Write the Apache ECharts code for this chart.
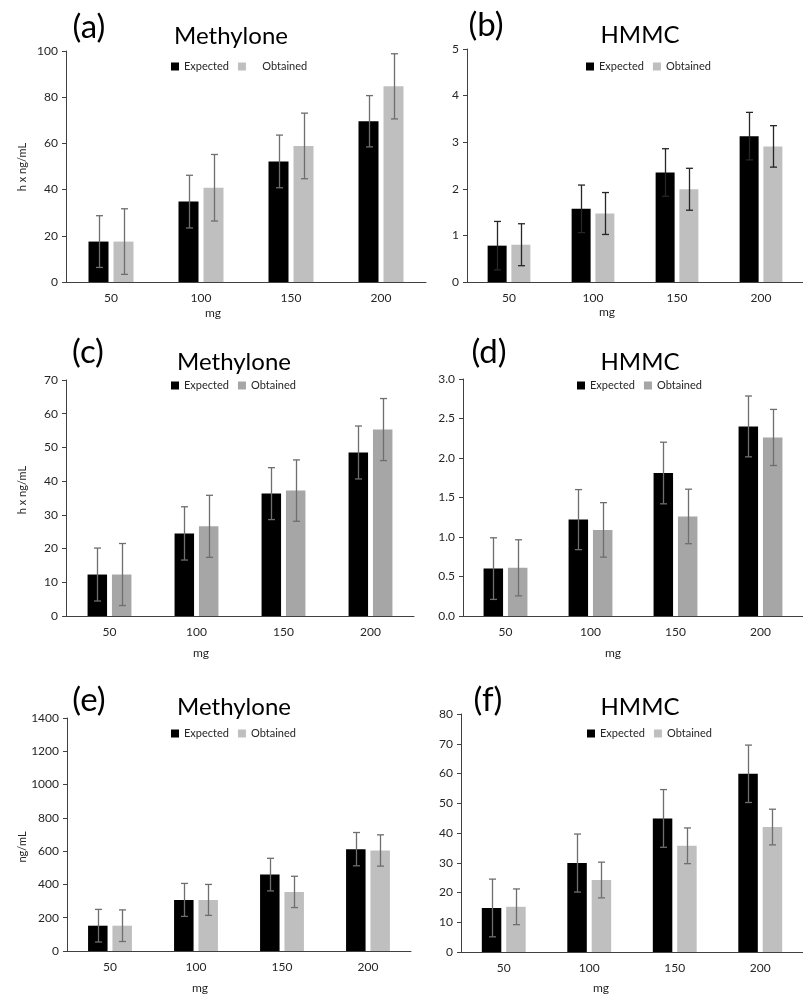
<!DOCTYPE html>
<html><head><meta charset="utf-8">
<script src="https://cdn.jsdelivr.net/npm/echarts@6/dist/echarts.min.js"></script>
<style>html,body{margin:0;padding:0;background:#fff}#c{width:803px;height:994px}</style>
</head><body><div id="c"></div>
<script>
const categories = ['50','100','150','200'];
// (a) Methylone
const aExp = [17.5, 34.8, 52.2, 69.6];
const aExpErr = [11.2, 11.4, 11.4, 11.1];
const aObt = [17.5, 40.8, 58.9, 84.7];
const aObtErr = [14.2, 14.4, 14.2, 14.1];
// (b) HMMC
const bExp = [0.78, 1.57, 2.35, 3.13];
const bExpErr = [0.52, 0.51, 0.51, 0.51];
const bObt = [0.80, 1.47, 1.99, 2.91];
const bObtErr = [0.45, 0.45, 0.45, 0.445];
// (c) Methylone
const cExp = [12.3, 24.5, 36.3, 48.5];
const cExpErr = [7.85, 7.9, 7.7, 7.85];
const cObt = [12.3, 26.6, 37.2, 55.3];
const cObtErr = [9.2, 9.2, 9.1, 9.2];
// (d) HMMC
const dExp = [0.60, 1.22, 1.81, 2.40];
const dExpErr = [0.39, 0.38, 0.39, 0.385];
const dObt = [0.61, 1.09, 1.26, 2.26];
const dObtErr = [0.355, 0.345, 0.345, 0.355];
// (e) Methylone
const eExp = [152, 307, 459, 612];
const eExpErr = [98, 99, 98, 100];
const eObt = [152, 307, 355, 604];
const eObtErr = [95, 93, 94, 94];
// (f) HMMC
const fExp = [14.8, 29.9, 44.9, 59.9];
const fExpErr = [9.7, 9.75, 9.7, 9.65];
const fObt = [15.2, 24.2, 35.7, 42.0];
const fObtErr = [6, 6, 6, 6];
// y-axis ticks
const yTicks = [
  {min:0, max:100, interval:20},
  {min:0, max:5, interval:1},
  {min:0, max:70, interval:10},
  {min:0, max:3, interval:0.5},
  {min:0, max:1400, interval:200},
  {min:0, max:80, interval:10}
];

const FONT = 'Lato, "Open Sans", sans-serif';
const panels = [
  {exp:aExp, expErr:aExpErr, obt:aObt, obtErr:aObtErr, grid:{left:66,top:51,width:360,height:231}, bw:20, obtColor:'#bfbfbf', errColor:'#6e6e6e', errExpColor:'#6e6e6e', dec:0,
   letter:'(a)', lx:89, ly:27, title:'Methylone', tx:231, ty:36, legend:{left:171, y:68}, obtPad:'    ', mg:[213,313], yname:'h x ng/mL', yn:[22,167]},
  {exp:bExp, expErr:bExpErr, obt:bObt, obtErr:bObtErr, grid:{left:467,top:49,width:341,height:233}, bw:19, obtColor:'#bfbfbf', errColor:'#262626', errExpColor:'#262626', dec:0,
   letter:'(b)', lx:486, ly:25, title:'HMMC', tx:640, ty:35, legend:{left:586, y:68}, obtPad:'', mg:[607,312]},
  {exp:cExp, expErr:cExpErr, obt:cObt, obtErr:cObtErr, grid:{left:66,top:380,width:348,height:236}, bw:19.5, obtColor:'#a6a6a6', errColor:'#6e6e6e', errExpColor:'#6e6e6e', dec:0,
   letter:'(c)', lx:88, ly:352, title:'Methylone', tx:234, ty:362, legend:{left:171, y:387}, obtPad:'', mg:[201,653], yname:'h x ng/mL', yn:[22,490]},
  {exp:dExp, expErr:dExpErr, obt:dObt, obtErr:dObtErr, grid:{left:463,top:379,width:349,height:237}, bw:19.5, obtColor:'#a6a6a6', errColor:'#6e6e6e', errExpColor:'#6e6e6e', dec:1,
   letter:'(d)', lx:489, ly:352, title:'HMMC', tx:640, ty:362, legend:{left:577, y:387}, obtPad:'', mg:[613,653]},
  {exp:eExp, expErr:eExpErr, obt:eObt, obtErr:eObtErr, grid:{left:67,top:718,width:344,height:233}, bw:19.5, obtColor:'#bfbfbf', errColor:'#6e6e6e', errExpColor:'#6e6e6e', dec:0,
   letter:'(e)', lx:89, ly:700, title:'Methylone', tx:234, ty:707, legend:{left:171, y:735}, obtPad:'', mg:[200,988], yname:'ng/mL', yn:[22,847]},
  {exp:fExp, expErr:fExpErr, obt:fObt, obtErr:fObtErr, grid:{left:461,top:714,width:351,height:238}, bw:19.5, obtColor:'#bfbfbf', errColor:'#6e6e6e', errExpColor:'#6e6e6e', dec:0,
   letter:'(f)', lx:488, ly:700, title:'HMMC', tx:640, ty:707, legend:{left:587, y:735}, obtPad:'', mg:[601,988]}
];

const grids=[], xAxes=[], yAxes=[], series=[], legends=[], graphics=[];
function errSeries(i, vals, errs, offset, color){
  return {
    type:'custom', name:'err'+i+offset, xAxisIndex:i, yAxisIndex:i, z:5, silent:true,
    data: vals.map((v,k)=>[k, v-errs[k], v+errs[k]]),
    renderItem:function(params, api){
      const lo = api.coord([api.value(0), api.value(1)]);
      const hi = api.coord([api.value(0), api.value(2)]);
      const x = Math.round(lo[0] + offset) + 0.5;
      const cap = 3.5;
      const st = {stroke:color, lineWidth:1.3};
      return {type:'group', children:[
        {type:'line', shape:{x1:x, y1:lo[1], x2:x, y2:hi[1]}, style:st},
        {type:'line', shape:{x1:x-cap, y1:hi[1], x2:x+cap, y2:hi[1]}, style:st},
        {type:'line', shape:{x1:x-cap, y1:lo[1], x2:x+cap, y2:lo[1]}, style:st}
      ]};
    }
  };
}
panels.forEach((p,i)=>{
  grids.push(Object.assign({containLabel:false}, p.grid));
  xAxes.push({type:'category', gridIndex:i, data:categories,
    axisLine:{lineStyle:{color:'#404040', width:1}}, axisTick:{show:false},
    axisLabel:{fontFamily:FONT, fontSize:12, color:'#262626', margin:10}});
  const t = yTicks[i];
  yAxes.push({type:'value', gridIndex:i, min:t.min, max:t.max, interval:t.interval,
    splitLine:{show:false}, axisLine:{show:true, lineStyle:{color:'#404040', width:1}},
    axisTick:{show:true, length:4, lineStyle:{color:'#404040'}},
    axisLabel:{fontFamily:FONT, fontSize:12, color:'#262626', margin:8,
      formatter: v => p.dec ? v.toFixed(p.dec) : String(v)}});
  series.push({type:'bar', name:'Expected', xAxisIndex:i, yAxisIndex:i, data:p.exp,
    barWidth:p.bw, barGap:'25%', itemStyle:{color:'#000000'}});
  series.push({type:'bar', name:'Obtained', xAxisIndex:i, yAxisIndex:i, data:p.obt,
    barWidth:p.bw, barGap:'25%', itemStyle:{color:p.obtColor}});
  const off = p.bw*0.625;
  series.push(errSeries(i, p.exp, p.expErr, -off, p.errExpColor));
  series.push(errSeries(i, p.obt, p.obtErr, off, p.errColor));
  const pad = p.obtPad;
  legends.push({left:p.legend.left, top:p.legend.y-7, padding:0, orient:'horizontal',
    icon:'rect', itemWidth:8, itemHeight:8, itemGap:9, selectedMode:false,
    data:[{name:'Expected', itemStyle:{color:'#000000'}}, {name:'Obtained', itemStyle:{color:p.obtColor}}],
    formatter: n => n==='Obtained' ? pad + n : n,
    textStyle:{fontFamily:FONT, fontSize:11, color:'#262626', padding:[0,0,0,0]}});
  graphics.push({type:'text', x:p.lx, y:p.ly, style:{text:p.letter, font:'33px '+FONT, fill:'#000', textAlign:'center', textVerticalAlign:'middle'}});
  graphics.push({type:'text', x:p.tx, y:p.ty, style:{text:p.title, font:'24px '+FONT, fill:'#000', textAlign:'center', textVerticalAlign:'middle'}});
  graphics.push({type:'text', x:p.mg[0], y:p.mg[1], style:{text:'mg', font:'12px '+FONT, fill:'#262626', textAlign:'center', textVerticalAlign:'middle'}});
  if (p.yname){
    graphics.push({type:'text', x:p.yn[0], y:p.yn[1], rotation:Math.PI/2, style:{text:p.yname, font:'11px '+FONT, fill:'#262626', textAlign:'center', textVerticalAlign:'middle'}});
  }
});

const chart = echarts.init(document.getElementById('c'), null, {renderer:'canvas'});
chart.setOption({
  animation:false,
  backgroundColor:'#ffffff',
  grid:grids, xAxis:xAxes, yAxis:yAxes, series:series, legend:legends, graphic:graphics
});
</script></body></html>
